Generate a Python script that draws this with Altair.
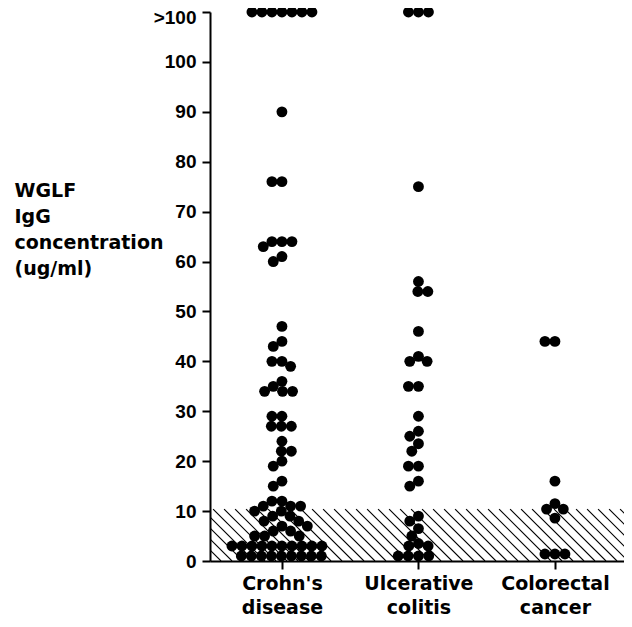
import json
import math
import altair as alt
import pandas as pd

# ---------------- data ----------------
categories = ["Crohn's disease", "Ulcerative colitis", "Colorectal cancer"]
top_label = ">100"
top_value = 110  # plotted position used for ">100"

crohns = [110, 110, 110, 110, 110, 110, 110,
          90, 76, 76, 64, 64, 64, 63, 61, 60, 47, 44, 43, 40, 40, 39, 36,
          35, 34, 34, 34, 29, 29, 27, 27, 27, 24, 22, 22, 20, 19, 16, 15,
          12, 12, 11, 11, 11, 10, 10, 9, 9, 8, 8, 7, 7, 6, 6, 5, 5, 5,
          3, 3, 3, 3, 3, 3, 3, 3, 3, 3,
          1, 1, 1, 1, 1, 1, 1, 1, 1]
ulcerative = [110, 110, 110, 75, 56, 54, 54, 46, 41, 40, 40, 35, 35, 29,
              26, 25, 23.5, 22, 19, 19, 16, 15, 9, 8, 6.5, 5, 3.5, 3, 3,
              1, 1, 1, 1]
colorectal = [44, 44, 16, 11.5, 10.4, 10.4, 8.6, 1.4, 1.4, 1.4]

normal_limit = 10.4
y_ticks = [0, 10, 20, 30, 40, 50, 60, 70, 80, 90, 100, 110]
y_title = ["WGLF", "IgG", "concentration", "(ug/ml)"]

# ---------------- layout ----------------
W, H = 414, 549
PX_X = 136.5                      # px per category step
X0 = 0.473
X_DOMAIN = [X0, X0 + W / PX_X]
Y_DOMAIN = [0, 110]
px_y = H / (Y_DOMAIN[1] - Y_DOMAIN[0])
DOT_GAP = 10.0  # minimum centre distance in px for the swarm


def swarm(values, d=DOT_GAP):
    """simple beeswarm: returns x offsets (px) for each value"""
    placed = []
    out = [0.0] * len(values)
    order = sorted(range(len(values)), key=lambda i: -values[i])
    for i in order:
        y = values[i] * px_y
        iv = []
        for (px, py) in placed:
            dy = abs(py - y)
            if dy < d:
                dx = math.sqrt(d * d - dy * dy)
                iv.append((px - dx, px + dx))
        cands = [0.0] + [a for a, b in iv] + [b for a, b in iv]
        cands.sort(key=abs)
        x = 0.0
        for c in cands:
            if all(not (a + 1e-6 < c < b - 1e-6) for a, b in iv):
                x = c
                break
        placed.append((x, y))
        out[i] = x
    return out


rows = []
for k, vals in enumerate([crohns, ulcerative, colorectal]):
    offs = swarm(vals)
    for v, o in zip(vals, offs):
        rows.append({"group": categories[k], "value": v, "xpos": k + 1 + o / PX_X})
points_df = pd.DataFrame(rows)

# hatch lines for the normal range (45 degree)
spacing_px = 11.0
h_px = normal_limit * px_y
hatch = []
xs = X_DOMAIN[0] - h_px / PX_X
while xs < X_DOMAIN[1]:
    hatch.append({"x": xs, "y": normal_limit, "x2": xs + h_px / PX_X, "y2": 0})
    xs += spacing_px / PX_X
hatch_df = pd.DataFrame(hatch)

TEXT_FONT = "DejaVu Sans"
NUM_FONT = "Liberation Sans"
FS = 19

label_parts = [c.split(" ") for c in categories]
x_label_expr = (
    f"datum.value == 1 ? {json.dumps(label_parts[0])} : "
    f"datum.value == 2 ? {json.dumps(label_parts[1])} : {json.dumps(label_parts[2])}"
)

xscale = alt.Scale(domain=X_DOMAIN, nice=False, zero=False)
yscale = alt.Scale(domain=Y_DOMAIN, nice=False)
xaxis = alt.Axis(values=[1, 2, 3], title=None, labelExpr=x_label_expr,
                 tickSize=8, tickWidth=2, domainWidth=2, domainColor="black",
                 tickColor="black", labelColor="black", labelFont=TEXT_FONT,
                 labelFontWeight="bold", labelFontSize=FS, labelLineHeight=24,
                 labelPadding=5, labelFlush=False, labelOverlap=False, grid=False)
yaxis = alt.Axis(values=y_ticks, title=y_title,
                 labelExpr=f"datum.value == {top_value} ? '{top_label}' : datum.label",
                 labelOffset={"condition": {"test": f"datum.value == {top_value}", "value": 5},
                              "value": 0},
                 tickSize=8, tickWidth=2, domainWidth=2, domainColor="black",
                 tickColor="black", labelColor="black", labelFont=NUM_FONT,
                 labelFontWeight="bold", labelFontSize=FS, labelPadding=6, grid=False,
                 titleAngle=0, titleAlign="left", titleBaseline="top",
                 titleX=-196, titleY=169, titleFont=TEXT_FONT, titleFontSize=FS,
                 titleFontWeight="bold", titleLineHeight=26, titleColor="black")

hatch_layer = alt.Chart(hatch_df).mark_rule(
    clip=True, color="black", strokeWidth=1.1
).encode(
    x=alt.X("x:Q", scale=xscale, axis=xaxis),
    y=alt.Y("y:Q", scale=yscale, axis=yaxis),
    x2="x2:Q",
    y2="y2:Q",
)

dots = alt.Chart(points_df).mark_circle(
    size=118, color="black", opacity=1
).encode(
    x=alt.X("xpos:Q", scale=xscale, axis=xaxis),
    y=alt.Y("value:Q", scale=yscale, axis=yaxis),
)

chart = alt.layer(hatch_layer, dots).properties(
    width=W, height=H,
    autosize=alt.AutoSizeParams(type="none"),
    padding={"left": 202, "top": 4, "right": 0, "bottom": 58},
).configure_view(stroke=None)

chart.save("out.html", embed_options={"renderer": "svg", "actions": False})
